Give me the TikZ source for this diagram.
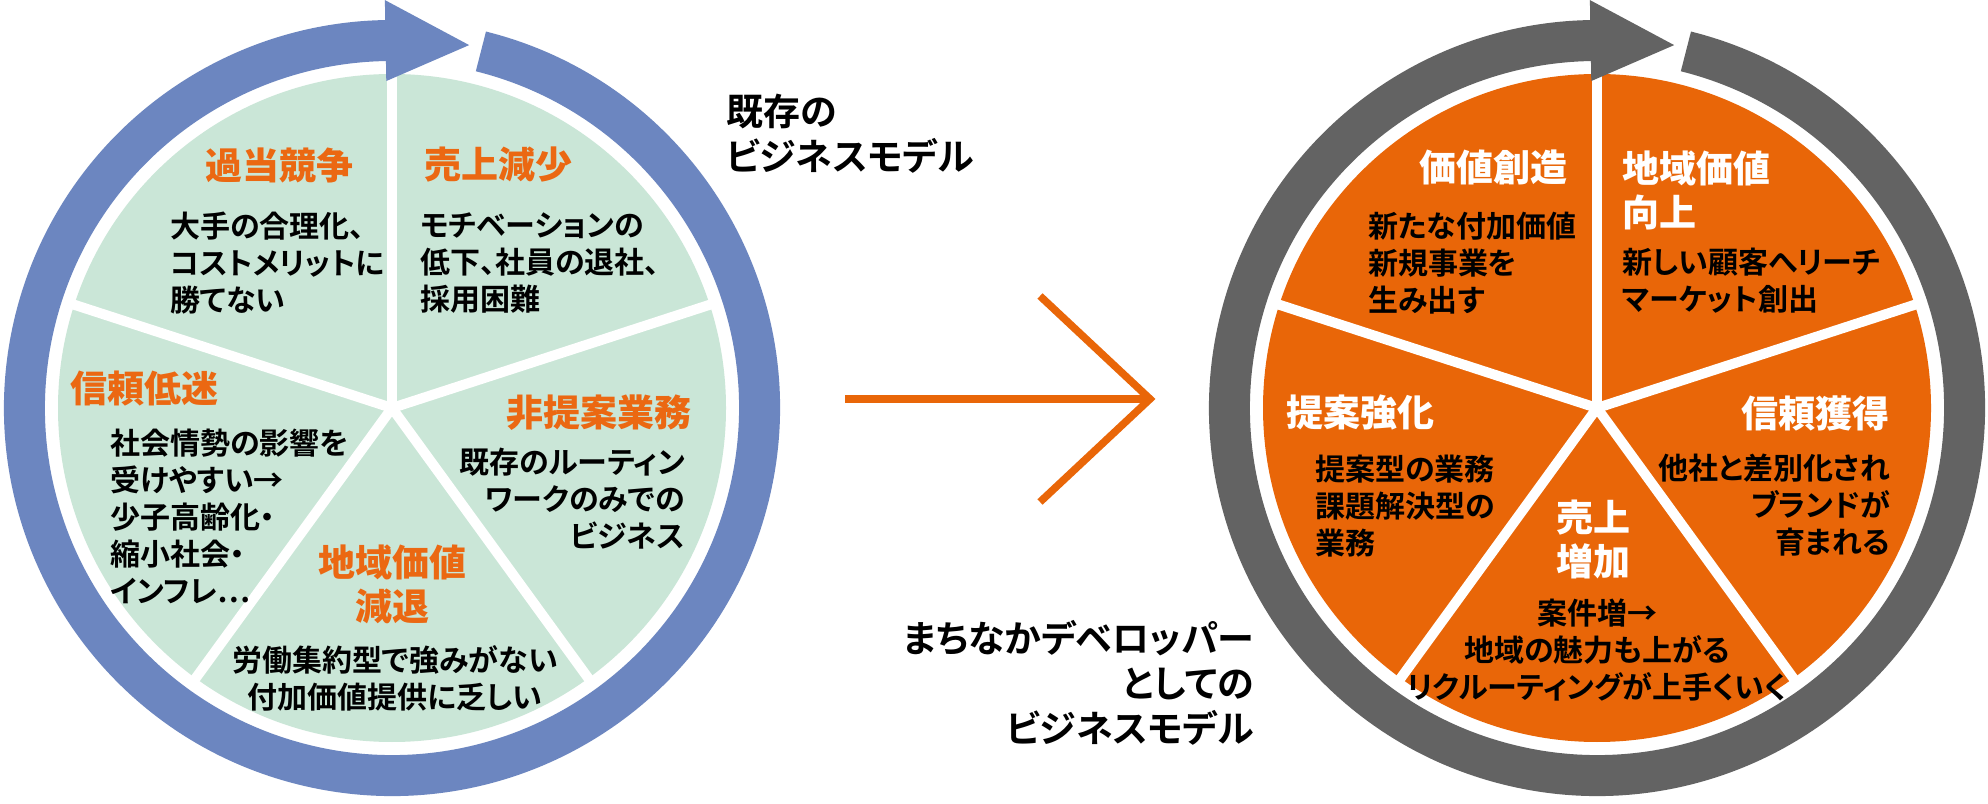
\documentclass[tikz,border=0pt]{standalone}
\usepackage{fontspec}
\usepackage{xcolor}
\setmainfont{Noto Sans CJK JP}
\IfFontExistsTF{Noto Sans CJK JP Bold}
  {\newfontfamily\jpbody{Noto Sans CJK JP Bold}[RawFeature=+palt]}
  {\newfontfamily\jpbody{Noto Sans CJK JP}[RawFeature=+palt]}
\IfFontExistsTF{Noto Sans CJK JP Black}
  {\newfontfamily\jptitle{Noto Sans CJK JP Black}[RawFeature=+palt]}
  {\newfontfamily\jptitle{Noto Sans CJK JP Bold}[RawFeature=+palt]}
\IfFontExistsTF{Noto Sans CJK JP Bold}
  {\newfontfamily\jpcap{Noto Sans CJK JP Bold}[RawFeature=+palt]}
  {\newfontfamily\jpcap{Noto Sans CJK JP}[RawFeature=+palt]}

\definecolor{ringblue}{RGB}{108,134,192}
\definecolor{piegreen}{RGB}{202,230,215}
\definecolor{titleorange}{RGB}{235,104,18}
\definecolor{ringgray}{RGB}{99,99,99}
\definecolor{pieorange}{RGB}{233,102,8}

\tikzset{
  titleL/.style={font=\jptitle\fontsize{37}{44}\selectfont, text=titleorange, inner sep=0pt},
  titleR/.style={font=\jptitle\fontsize{37}{44}\selectfont, text=white, inner sep=0pt},
  body/.style={font=\jpbody\fontsize{30}{37}\selectfont, inner sep=0pt},
  caption/.style={font=\jpcap\fontsize{37}{45}\selectfont, inner sep=0pt},
  divider/.style={white, line width=10pt},
}

\begin{document}
\begin{tikzpicture}[x=1pt,y=1pt]
				\fill [white](0,0)rectangle(1988,803);
				\useasboundingbox (0,0)rectangle(1988,803);
				% left: existing model
				\begin{scope}[shift={(392,395)}]
				\fill [piegreen](0,0)circle[radius=334];
				\draw [divider](0,0)--(90:342);
				\draw [divider](0,0)--(162:342);
				\draw [divider](0,0)--(234:342);
				\draw [divider](0,0)--(306:342);
				\draw [divider](0,0)--(18:342);
				\draw [ringblue, line width=41pt](76:367.5)arc[start angle=76, end angle=-270, radius=367.5];
				\fill [ringblue](91:408)--(78:371)--(91:327)--cycle;
				\end{scope}
				\node [titleL] (kato) at (279,638){過当競争};
				\node [body, align=left, anchor=west] (katobody) at (170,540){大手の合理化、\\コストメリットに\\勝てない};
				\node [titleL, anchor=west] (uriage) at (424,638){売上減少};
				\node [body, align=left, anchor=west] (uriagebody) at (420,540){モチベーションの\\低下、社員の退社、\\採用困難};
				\node [titleL, anchor=west] (shinrai) at (70,414){信頼低迷};
				\node [body, align=left, anchor=west] (shinraibody) at (110,287){社会情勢の影響を\\受けやすい→\\少子高齢化・\\縮小社会・\\インフレ…};
				\node [titleL, anchor=east] (hiteian) at (692,390){非提案業務};
				\node [body, align=right, anchor=east] (hiteianbody) at (685,304){既存のルーティン\\ワークのみでの\\ビジネス};
				\node [titleL, align=center] (gentai) at (392,219){地域価値\\減退};
				\node [body, align=center] (gentaibody) at (395,125){労働集約型で強みがない\\付加価値提供に乏しい};
				\node [caption, align=left, anchor=west] (kizon) at (726,669){既存の\\ビジネスモデル};
				% arrow between the two models
				\coordinate (arrowstart) at (845,404);
				\coordinate (arrowtip) at (1150,404);
				\coordinate (arrowup) at (1040,507);
				\coordinate (arrowdown) at (1040,301);
				\draw [pieorange, line width=7.5pt](arrowstart)--(arrowtip);
				\draw [pieorange, line width=7.5pt](arrowup)--(arrowtip)--(arrowdown);
				% right: town developer model
				\begin{scope}[shift={(1597,395)}]
				\fill [pieorange](0,0)circle[radius=334];
				\draw [divider](0,0)--(90:342);
				\draw [divider](0,0)--(162:342);
				\draw [divider](0,0)--(234:342);
				\draw [divider](0,0)--(306:342);
				\draw [divider](0,0)--(18:342);
				\draw [ringgray, line width=41pt](76:367.5)arc[start angle=76, end angle=-270, radius=367.5];
				\fill [ringgray](91:408)--(78:371)--(91:327)--cycle;
				\end{scope}
				\node [titleR, anchor=east] (kachi) at (1568,636){価値創造};
				\node [body, align=left, anchor=west] (kachibody) at (1368,540){新たな付加価値\\新規事業を\\生み出す};
				\node [titleR, align=left, anchor=west] (kojo) at (1622,613){地域価値\\向上};
				\node [body, align=left, anchor=west] (kojobody) at (1622,522){新しい顧客へリーチ\\マーケット創出};
				\node [titleR, anchor=west] (teian) at (1286,390){提案強化};
				\node [body, align=left, anchor=west] (teianbody) at (1315,297){提案型の業務\\課題解決型の\\業務};
				\node [titleR, anchor=east] (kakutoku) at (1890,390){信頼獲得};
				\node [body, align=right, anchor=east] (kakutokubody) at (1890,298){他社と差別化され\\ブランドが\\育まれる};
				\node [titleR, align=center] (zoka) at (1593,264){売上\\増加};
				\node [body, align=center] (zokabody) at (1597,153){案件増→\\地域の魅力も上がる\\リクルーティングが上手くいく};
				\node [caption, align=right, anchor=east] (machinaka) at (1254,120){まちなかデベロッパー\\としての\\ビジネスモデル};
\end{tikzpicture}
\end{document}
